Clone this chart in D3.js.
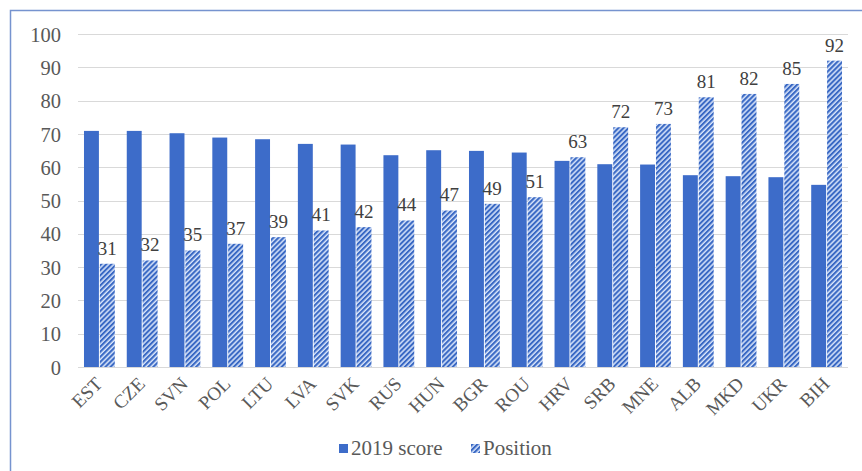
<!DOCTYPE html>
<html lang="en">
<head>
<meta charset="UTF-8">
<title>2019 score and position</title>
<style>
  body { margin: 0; background: #fff; }
  svg { display: block; }
  svg text { font-family: "Liberation Serif", "Times New Roman", serif; }
</style>
</head>
<body>
<svg id="chart" width="862" height="471"></svg>
<script src="https://cdnjs.cloudflare.com/ajax/libs/d3/7.8.5/d3.min.js"></script>
<script>
  const countries = ["EST", "CZE", "SVN", "POL", "LTU", "LVA", "SVK", "RUS", "HUN", "BGR", "ROU", "HRV", "SRB", "MNE", "ALB", "MKD", "UKR", "BIH"];
  const score2019 = [70.9, 70.9, 70.2, 68.9, 68.4, 67.0, 66.8, 63.6, 65.1, 64.9, 64.4, 61.9, 60.9, 60.8, 57.6, 57.3, 57.0, 54.7];
  const position = [31, 32, 35, 37, 39, 41, 42, 44, 47, 49, 51, 63, 72, 73, 81, 82, 85, 92];
  const yTicks = [0, 10, 20, 30, 40, 50, 60, 70, 80, 90, 100];
  const seriesNames = ["2019 score", "Position"];

  const svg = d3.select("#chart");
  const plotLeft = 78, plotRight = 848, plotTop = 34, plotBottom = 367;

  // outer frame
  svg.append("rect")
    .attr("x", 10.5).attr("y", 10.5).attr("width", 870).attr("height", 470)
    .attr("fill", "none").attr("stroke", "#7693cf").attr("stroke-width", 1.5);

  // hatch pattern
  const defs = svg.append("defs");
  const pat = defs.append("pattern")
    .attr("id", "hatch").attr("patternUnits", "userSpaceOnUse")
    .attr("width", 3.6).attr("height", 3.6)
    .attr("patternTransform", "rotate(45)");
  pat.append("rect").attr("width", 3.6).attr("height", 3.6).attr("fill", "#d8e4fa");
  pat.append("rect").attr("width", 2.1).attr("height", 3.6).attr("fill", "#3a69c4");

  const x = d3.scaleBand().domain(countries).range([plotLeft, plotRight]).paddingInner(0.28).paddingOuter(0.14);
  const xs = d3.scaleBand().domain([0, 1]).range([0, x.bandwidth()]).paddingInner(0.06);
  const y = d3.scaleLinear().domain([0, 100]).range([plotBottom, plotTop]);

  // grid
  svg.append("g").selectAll("line").data(yTicks).join("line")
    .attr("x1", plotLeft).attr("x2", plotRight)
    .attr("y1", d => Math.round(y(d)) + 0.5).attr("y2", d => Math.round(y(d)) + 0.5)
    .attr("stroke", "#d9d9d9").attr("stroke-width", 1.2);

  // y axis labels
  const yAxis = svg.append("g").attr("transform", `translate(${plotLeft - 17},0)`)
    .call(d3.axisLeft(y).tickValues(yTicks).tickSize(0).tickPadding(0));
  yAxis.select(".domain").remove();
  yAxis.attr("font-size", null).attr("font-family", null);
  yAxis.selectAll("text").attr("font-size", 20.5).attr("fill", "#595959").attr("dy", "0.35em");

  // bars
  const groups = svg.append("g").selectAll("g").data(countries).join("g")
    .attr("transform", d => `translate(${x(d)},0)`);
  groups.append("rect")
    .attr("x", xs(0)).attr("width", xs.bandwidth())
    .attr("y", (d, i) => y(score2019[i])).attr("height", (d, i) => y(0) - y(score2019[i]))
    .attr("fill", "#3d6cc9");
  groups.append("rect")
    .attr("x", xs(1)).attr("width", xs.bandwidth())
    .attr("y", (d, i) => y(position[i])).attr("height", (d, i) => y(0) - y(position[i]))
    .attr("fill", "url(#hatch)");
  groups.append("text")
    .attr("x", xs(1) + xs.bandwidth() / 2)
    .attr("y", (d, i) => y(position[i]) - 9)
    .attr("text-anchor", "middle").attr("font-size", 19).attr("fill", "#404040")
    .text((d, i) => position[i]);

  // x axis labels
  const xAxis = svg.append("g").attr("transform", `translate(0,${plotBottom})`)
    .call(d3.axisBottom(x).tickSize(0).tickPadding(0));
  xAxis.select(".domain").remove();
  xAxis.attr("font-size", null).attr("font-family", null);
  xAxis.selectAll("text")
    .attr("font-size", 19).attr("fill", "#595959")
    .attr("text-anchor", "end")
    .attr("dy", 0)
    .attr("transform", "translate(4,18) rotate(-45)");

  // legend
  const legend = svg.append("g").attr("transform", "translate(339,449)");
  legend.append("rect").attr("x", 0).attr("y", -5).attr("width", 9).attr("height", 9).attr("fill", "#3d6cc9");
  legend.append("text").attr("x", 12).attr("y", 6).attr("font-size", 21).attr("fill", "#595959").text(seriesNames[0]);
  legend.append("rect").attr("x", 132).attr("y", -5).attr("width", 9).attr("height", 9).attr("fill", "url(#hatch)");
  legend.append("text").attr("x", 144).attr("y", 6).attr("font-size", 21).attr("fill", "#595959").text(seriesNames[1]);
</script>
</body>
</html>
